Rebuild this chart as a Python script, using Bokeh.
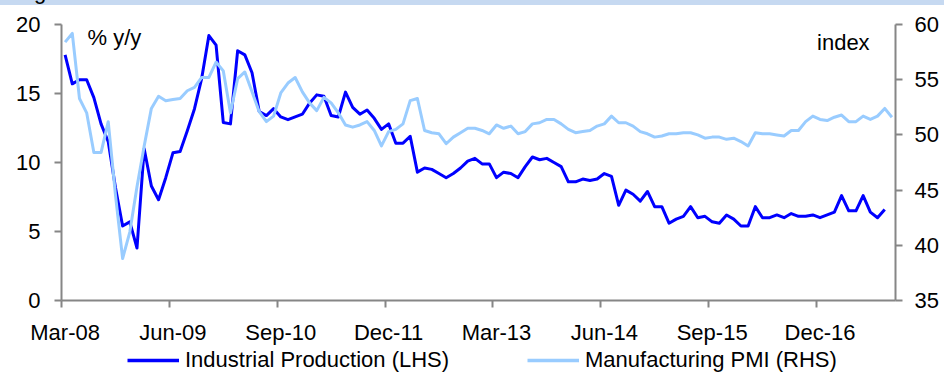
import pandas as pd
from bokeh.plotting import figure
from bokeh.models import (Range1d, LinearAxis, FixedTicker, Label, Legend,
                          LegendItem, Div, ColumnDataSource)
from bokeh.layouts import column
from bokeh.embed import file_html
from bokeh.resources import INLINE

# ---------------- data ----------------
first_month = "2008-03"
last_month = "2017-10"
months = [p.strftime("%b-%y") for p in pd.period_range(first_month, last_month, freq="M")]
label_every = 15

# Industrial production, % y/y (LHS), Mar-08 .. Sep-17
ip = [17.8, 15.7, 16.0, 16.0, 14.7, 12.8, 11.5, 8.2, 5.4, 5.7,
      3.8, 11.0, 8.3, 7.3, 8.9, 10.7, 10.8, 12.3, 13.9, 16.1,
      19.2, 18.5, 12.9, 12.8, 18.1, 17.8, 16.5, 13.7, 13.4, 13.9,
      13.3, 13.1, 13.3, 13.5, 14.3, 14.9, 14.8, 13.4, 13.3, 15.1,
      14.0, 13.5, 13.8, 13.2, 12.4, 12.8, 11.4, 11.4, 11.9, 9.3,
      9.6, 9.5, 9.2, 8.9, 9.2, 9.6, 10.1, 10.3, 9.9, 9.9,
      8.9, 9.3, 9.2, 8.9, 9.7, 10.4, 10.2, 10.3, 10.0, 9.7,
      8.6, 8.6, 8.8, 8.7, 8.8, 9.2, 9.0, 6.9, 8.0, 7.7,
      7.2, 7.9, 6.8, 6.8, 5.6, 5.9, 6.1, 6.8, 6.0, 6.1,
      5.7, 5.6, 6.2, 5.9, 5.4, 5.4, 6.8, 6.0, 6.0, 6.2,
      6.0, 6.3, 6.1, 6.1, 6.2, 6.0, 6.2, 6.4, 7.6, 6.5,
      6.5, 7.6, 6.4, 6.0, 6.6]

# Manufacturing PMI, index (RHS), Mar-08 .. Oct-17
pmi = [58.4, 59.2, 53.3, 52.0, 48.4, 48.4, 51.2, 44.6, 38.8, 41.2,
       45.3, 49.0, 52.4, 53.5, 53.1, 53.2, 53.3, 54.0, 54.3, 55.2,
       55.2, 56.6, 55.8, 52.0, 55.1, 55.7, 53.9, 52.1, 51.2, 51.7,
       53.8, 54.7, 55.2, 53.9, 52.9, 52.2, 53.4, 52.9, 52.0, 50.9,
       50.7, 50.9, 51.2, 50.4, 49.0, 50.3, 50.5, 51.0, 53.1, 53.3,
       50.4, 50.2, 50.1, 49.2, 49.8, 50.2, 50.6, 50.6, 50.4, 50.1,
       50.9, 50.6, 50.8, 50.1, 50.3, 51.0, 51.1, 51.4, 51.4, 51.0,
       50.5, 50.2, 50.3, 50.4, 50.8, 51.0, 51.7, 51.1, 51.1, 50.8,
       50.3, 50.1, 49.8, 49.9, 50.1, 50.1, 50.2, 50.2, 50.0, 49.7,
       49.8, 49.8, 49.6, 49.7, 49.4, 49.0, 50.2, 50.1, 50.1, 50.0,
       49.9, 50.4, 50.4, 51.2, 51.7, 51.4, 51.3, 51.6, 51.8, 51.2,
       51.2, 51.7, 51.4, 51.7, 52.4, 51.6]

left_ticks = [0, 5, 10, 15, 20]
right_ticks = [35, 40, 45, 50, 55, 60]
series_names = ["Industrial Production (LHS)", "Manufacturing PMI (RHS)"]
left_unit = "% y/y"
right_unit = "index"

# ---------------- styling ----------------
FONT = "Liberation Sans"
FS = "22px"
AXIS_GREY = "#868686"
IP_COLOR = "#0000FF"
PMI_COLOR = "#99CCFF"
LEG_H = 26

n = len(months)
x_ip = [i + 0.5 for i in range(len(ip))]
x_pmi = [i + 0.5 for i in range(len(pmi))]

p = figure(width=944, height=342, output_backend="svg", toolbar_location=None,
           x_range=Range1d(0, n), y_range=Range1d(left_ticks[0], left_ticks[-1]),
           min_border_left=61, min_border_right=49, min_border_top=19,
           min_border_bottom=43, outline_line_color=None,
           background_fill_color="white", border_fill_color="white")
p.extra_y_ranges = {"pmi": Range1d(right_ticks[0], right_ticks[-1])}
p.xgrid.visible = False
p.ygrid.visible = False

# x axis: labels at category centres, tick marks at category edges
lab_pos = [k + 0.5 for k in range(0, n, label_every)]
edge_pos = [k for k in range(0, n, label_every)]
p.xaxis.ticker = FixedTicker(ticks=lab_pos, minor_ticks=edge_pos)
p.xaxis.major_label_overrides = {k + 0.5: months[k] for k in range(0, n, label_every)}
p.xaxis.major_tick_out = 0
p.xaxis.major_tick_in = 0
p.xaxis.minor_tick_out = 7
p.xaxis.minor_tick_in = 0
p.xaxis.minor_tick_line_color = AXIS_GREY
p.xaxis.minor_tick_line_width = 2
p.xaxis.major_label_standoff = 12

p.yaxis.ticker = FixedTicker(ticks=left_ticks)
p.yaxis.major_label_standoff = 14

raxis = LinearAxis(y_range_name="pmi", ticker=FixedTicker(ticks=right_ticks))
raxis.major_label_standoff = 12
p.add_layout(raxis, "right")

for ax in [p.xaxis[0], p.yaxis[0], raxis]:
    ax.axis_line_color = AXIS_GREY
    ax.axis_line_width = 2
    ax.major_tick_line_color = AXIS_GREY
    ax.major_tick_line_width = 2
    ax.major_label_text_font = FONT
    ax.major_label_text_font_size = FS
    ax.major_label_text_color = "black"
for ax in [p.yaxis[0], raxis]:
    ax.major_tick_out = 7
    ax.major_tick_in = 0
    ax.minor_tick_line_color = None

src_ip = ColumnDataSource(dict(x=x_ip, y=ip))
src_pmi = ColumnDataSource(dict(x=x_pmi, y=pmi))
p.line("x", "y", source=src_ip, line_color=IP_COLOR, line_width=3,
       line_join="round")
p.line("x", "y", source=src_pmi, line_color=PMI_COLOR, line_width=3,
       line_join="round", y_range_name="pmi")

p.add_layout(Label(x=3.62, y=19.07, text=left_unit, text_font=FONT,
                   text_font_size=FS, text_color="black",
                   text_baseline="alphabetic", text_align="left"))
p.add_layout(Label(x=112.4, y=18.71, text=right_unit, text_font=FONT,
                   text_font_size=FS, text_color="black",
                   text_baseline="alphabetic", text_align="right"))

# ---------------- legend strip (frame is aligned with the main frame) ----------------
lf = figure(width=944, height=LEG_H, output_backend="svg", toolbar_location=None,
            x_range=Range1d(0, 1), y_range=Range1d(0, 1),
            min_border_left=0, min_border_right=0, min_border_top=0,
            min_border_bottom=0, outline_line_color=None)
lf.axis.visible = False
lf.grid.visible = False
nan = float("nan")
d_ip = lf.line([nan], [nan], line_color=IP_COLOR, line_width=3.5)
d_pmi = lf.line([nan], [nan], line_color=PMI_COLOR, line_width=3.5)
for name, r, x0 in [(series_names[0], d_ip, 66), (series_names[1], d_pmi, 466)]:
    lg = Legend(items=[LegendItem(label=name, renderers=[r])], location=(x0, 0),
                orientation="horizontal", glyph_width=52, glyph_height=LEG_H,
                label_height=LEG_H, label_standoff=6, padding=0, margin=0,
                spacing=0, border_line_color=None, background_fill_alpha=0,
                label_text_font=FONT, label_text_font_size=FS,
                label_text_color="black")
    lf.add_layout(lg)

band = Div(text='<div style="position:absolute;left:34px;top:-19px;'
                'font-family:\'Liberation Sans\';font-size:22px;line-height:22px;'
                'color:black;">g</div>',
           width=944, height=5, margin=0,
           styles={"background-color": "#C6D9F1", "overflow": "hidden",
                   "position": "relative"})

layout = column(band, p, lf, spacing=0, margin=0)
open("out.html", "w").write(file_html(layout, INLINE))
